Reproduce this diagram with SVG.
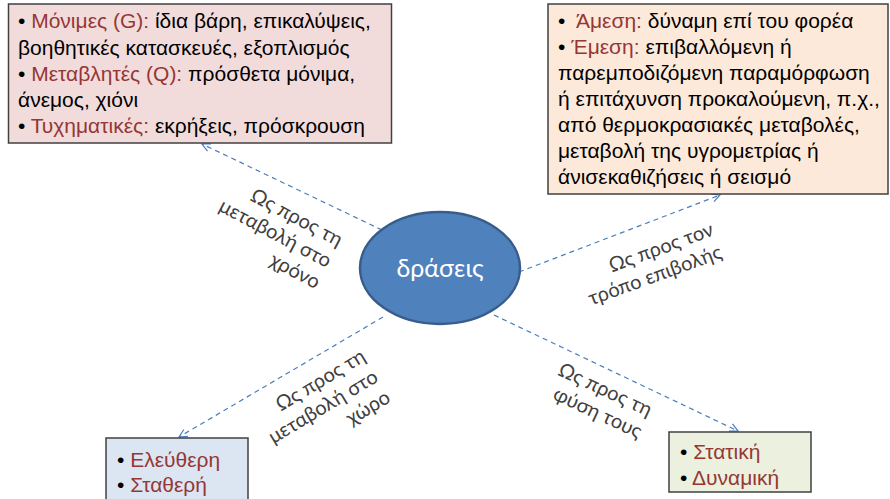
<svg xmlns="http://www.w3.org/2000/svg" width="890" height="499" viewBox="0 0 890 499">
<defs>
<marker id="arr" markerUnits="userSpaceOnUse" markerWidth="14" markerHeight="14" refX="9" refY="5" orient="auto">
<path d="M1,1 L9,5 L1,9" fill="none" stroke="#4A7EBB" stroke-width="1.2"/>
</marker>
<style>
.box{stroke:#404040;stroke-width:1.5}
.bt{font-family:"Liberation Sans",Arial,sans-serif;font-size:21px;fill:#000}
.r{fill:#953735}
.lbl{font-family:Lato,"Open Sans",sans-serif;font-size:20px;fill:#404040;text-anchor:end}
.con{stroke:#4A7EBB;stroke-width:1.2;stroke-dasharray:5 4;fill:none;marker-end:url(#arr)}
</style>
</defs>
<rect width="890" height="499" fill="#fff"/>
<g id="connectors">
<line class="con" x1="382" y1="230" x2="202" y2="144"/>
<line class="con" x1="519" y1="272" x2="720" y2="195"/>
<line class="con" x1="383" y1="317" x2="179" y2="437"/>
<line class="con" x1="494" y1="315" x2="738" y2="431"/>
</g>
<g id="node-center">
<ellipse cx="440" cy="268" rx="80" ry="56" fill="#4F81BD" stroke="#385D8A" stroke-width="2.5"/>
<text x="440" y="277" text-anchor="middle" font-family="Lato,'Open Sans',sans-serif" font-size="25" fill="#fff">δράσεις</text>
</g>
<g id="node-time">
<rect class="box" x="8.5" y="4" width="383" height="139" fill="#F2DCDB"/>
<text class="bt" x="18" y="28">• <tspan class="r">Μόνιμες (G):</tspan> ίδια βάρη, επικαλύψεις,</text>
<text class="bt" x="18" y="55">βοηθητικές κατασκευές, εξοπλισμός</text>
<text class="bt" x="18" y="81">• <tspan class="r">Μεταβλητές (Q):</tspan> πρόσθετα μόνιμα,</text>
<text class="bt" x="18" y="107">άνεμος, χιόνι</text>
<text class="bt" x="18" y="133">• <tspan class="r">Τυχηματικές:</tspan> εκρήξεις, πρόσκρουση</text>
</g>
<g id="node-mode">
<rect class="box" x="548" y="4" width="340" height="190" fill="#FDE9D9"/>
<text class="bt" x="558" y="28">•<tspan class="r" x="576">Άμεση:</tspan> δύναμη επί του φορέα</text>
<text class="bt" x="558" y="54">• <tspan class="r">Έμεση:</tspan> επιβαλλόμενη ή</text>
<text class="bt" x="558" y="80">παρεμποδιζόμενη παραμόρφωση</text>
<text class="bt" x="558" y="106">ή επιτάχυνση προκαλούμενη, π.χ.,</text>
<text class="bt" x="558" y="132">από θερμοκρασιακές μεταβολές,</text>
<text class="bt" x="558" y="158">μεταβολή της υγρομετρίας ή</text>
<text class="bt" x="558" y="184">άνισεκαθιζήσεις ή σεισμό</text>
</g>
<g id="node-space">
<rect class="box" x="106" y="438" width="142" height="70" fill="#DCE6F2"/>
<text class="bt" x="117" y="467" font-size="22">• <tspan class="r">Ελεύθερη</tspan></text>
<text class="bt" x="117" y="492" font-size="22">• <tspan class="r">Σταθερή</tspan></text>
</g>
<g id="node-nature">
<rect class="box" x="669" y="432" width="142" height="60" fill="#EBF1DE"/>
<text class="bt" x="680" y="459" font-size="22">• <tspan class="r">Στατική</tspan></text>
<text class="bt" x="680" y="485" font-size="22">• <tspan class="r">Δυναμική</tspan></text>
</g>
<g id="labels">
<g transform="translate(338,247) rotate(28)">
<text class="lbl" x="0" y="0">Ως προς τη</text>
<text class="lbl" x="0" y="24">μεταβολή στο</text>
<text class="lbl" x="0" y="48">χρόνο</text>
</g>
<g transform="translate(715,235) rotate(-20)">
<text class="lbl" x="0" y="0">Ως προς τον</text>
<text class="lbl" x="0" y="24">τρόπο επιβολής</text>
</g>
<g transform="translate(367,360) rotate(-31)">
<text class="lbl" x="0" y="0">Ως προς τη</text>
<text class="lbl" x="0" y="24">μεταβολή στο</text>
<text class="lbl" x="0" y="48">χώρο</text>
</g>
<g transform="translate(648,417) rotate(25)">
<text class="lbl" x="0" y="0">Ως προς τη</text>
<text class="lbl" x="0" y="24">φύση τους</text>
</g>
</g>
</svg>
